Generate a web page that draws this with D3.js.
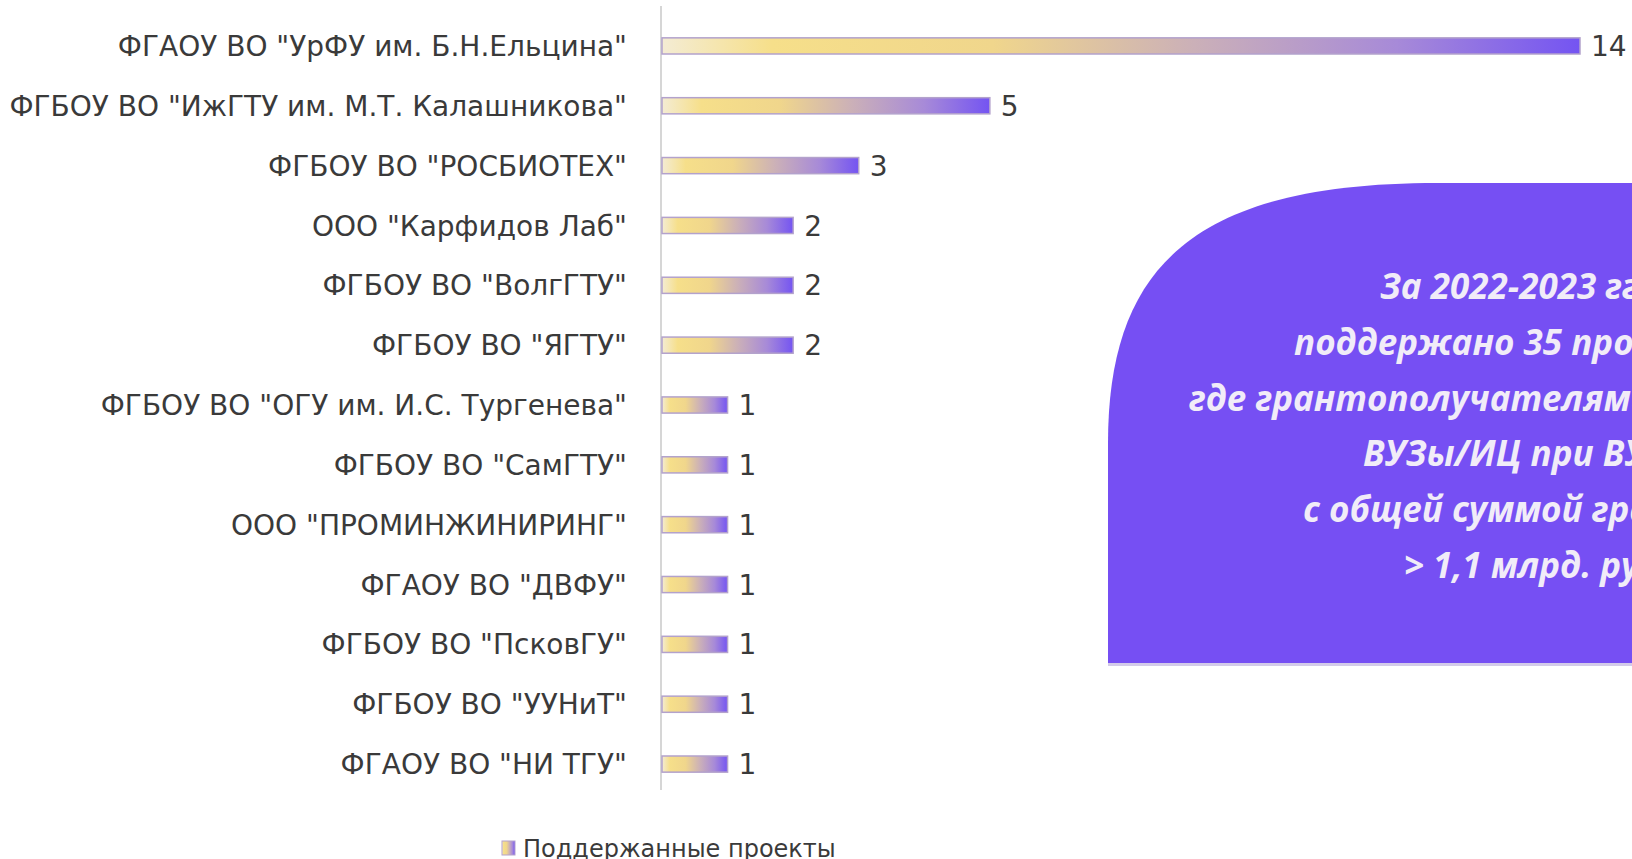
<!DOCTYPE html>
<html>
<head>
<meta charset="utf-8">
<script src="https://cdn.jsdelivr.net/npm/d3@7"></script>
<style>
  body { margin: 0; background: #fff; overflow: hidden; }
  svg { display: block; }
</style>
</head>
<body>
<svg width="1632" height="859"></svg>
<script>
var organisations = [
  'ФГАОУ ВО "УрФУ им. Б.Н.Ельцина"',
  'ФГБОУ ВО "ИжГТУ им. М.Т. Калашникова"',
  'ФГБОУ ВО "РОСБИОТЕХ"',
  'ООО "Карфидов Лаб"',
  'ФГБОУ ВО "ВолгГТУ"',
  'ФГБОУ ВО "ЯГТУ"',
  'ФГБОУ ВО "ОГУ им. И.С. Тургенева"',
  'ФГБОУ ВО "СамГТУ"',
  'ООО "ПРОМИНЖИНИРИНГ"',
  'ФГАОУ ВО "ДВФУ"',
  'ФГБОУ ВО "ПсковГУ"',
  'ФГБОУ ВО "УУНиТ"',
  'ФГАОУ ВО "НИ ТГУ"'
];
var projects = [14, 5, 3, 2, 2, 2, 1, 1, 1, 1, 1, 1, 1];
var seriesName = "Поддержанные проекты";
var noteLines = [
  "За 2022-2023 гг.",
  "поддержано 35 проектов,",
  "где грантополучателями являются",
  "ВУЗы/ИЦ при ВУЗах",
  "с общей суммой грантов",
  "> 1,1 млрд. руб."
];
// where each note line starts (the box runs off the right edge)
var noteStarts = [1380, 1294, 1189, 1363, 1303, 1404];

var svg = d3.select("svg");
var width = 1632, height = 859;
var labelFont = "'DejaVu Sans', Verdana, sans-serif";

var data = organisations.map(function(d, i) { return {name: d, value: projects[i]}; });

var x = d3.scaleLinear().domain([0, 14]).range([662, 1580]);
var y = d3.scaleBand().domain(organisations).range([16, 794])
  .paddingInner(0.73).paddingOuter(0.365);

// gradient for the bars
var defs = svg.append("defs");
var grad = defs.append("linearGradient").attr("id", "barGrad")
  .attr("x1", "0%").attr("x2", "100%").attr("y1", "0%").attr("y2", "0%");
[["0%", "#f4ecd4"], ["12%", "#f6df8a"], ["36%", "#f0d68c"], ["58%", "#cbb0b8"],
 ["80%", "#a78ad8"], ["100%", "#7454f2"]].forEach(function(s) {
  grad.append("stop").attr("offset", s[0]).attr("stop-color", s[1]);
});

// info box on the right
var bx = 1108, by = 183, bb = 663;
svg.append("rect")
  .attr("x", bx).attr("y", bb).attr("width", width - bx).attr("height", 3)
  .attr("fill", "#d3cbe9");
svg.append("path")
  .attr("d", "M" + bx + "," + bb +
    " L" + bx + "," + (by + 260) +
    " C" + bx + "," + (by + 80) + " " + (bx + 90) + "," + by + " " + (bx + 330) + "," + by +
    " L" + (width + 10) + "," + by +
    " L" + (width + 10) + "," + bb + " Z")
  .attr("fill", "#764ff3");

svg.append("g").selectAll("text")
  .data(noteLines)
  .join("text")
  .attr("x", function(d, i) { return noteStarts[i]; })
  .attr("y", function(d, i) { return 299 + i * 55.8; })
  .attr("fill", "#f1ecf8")
  .style("font-family", "'Open Sans', 'DejaVu Sans', sans-serif")
  .style("font-size", "35px")
  .style("font-weight", "bold")
  .style("font-style", "italic")
  .text(function(d) { return d; });

// axis line
svg.append("line")
  .attr("x1", x(0) - 1).attr("x2", x(0) - 1)
  .attr("y1", 6).attr("y2", 790)
  .attr("stroke", "#d6d6d6").attr("stroke-width", 2);

// bars
svg.append("g").selectAll("rect")
  .data(data)
  .join("rect")
  .attr("x", x(0))
  .attr("y", function(d) { return y(d.name); })
  .attr("width", function(d) { return x(d.value) - x(0); })
  .attr("height", y.bandwidth())
  .attr("fill", "url(#barGrad)")
  .attr("stroke", "#b3a2cc")
  .attr("stroke-width", 1.5);

// value labels
svg.append("g").selectAll("text")
  .data(data)
  .join("text")
  .attr("x", function(d) { return x(d.value) + 11; })
  .attr("y", function(d) { return y(d.name) + y.bandwidth() / 2; })
  .attr("dy", "0.36em")
  .attr("fill", "#3a3a3a")
  .style("font-family", labelFont)
  .style("font-size", "28px")
  .text(function(d) { return d.value; });

// category labels
svg.append("g").selectAll("text")
  .data(data)
  .join("text")
  .attr("x", 627)
  .attr("y", function(d) { return y(d.name) + y.bandwidth() / 2; })
  .attr("dy", "0.36em")
  .attr("text-anchor", "end")
  .attr("fill", "#3a3a3a")
  .style("font-family", labelFont)
  .style("font-size", "28px")
  .text(function(d) { return d.name; });

// legend
var legend = svg.append("g").attr("transform", "translate(502,839)");
legend.append("rect")
  .attr("width", 13).attr("height", 14).attr("y", 2)
  .attr("fill", "url(#barGrad)").attr("stroke", "#b3a2cc");
legend.append("text")
  .attr("x", 21).attr("y", 18)
  .attr("fill", "#3a3a3a")
  .style("font-family", labelFont)
  .style("font-size", "24px")
  .text(seriesName);
</script>
</body>
</html>
